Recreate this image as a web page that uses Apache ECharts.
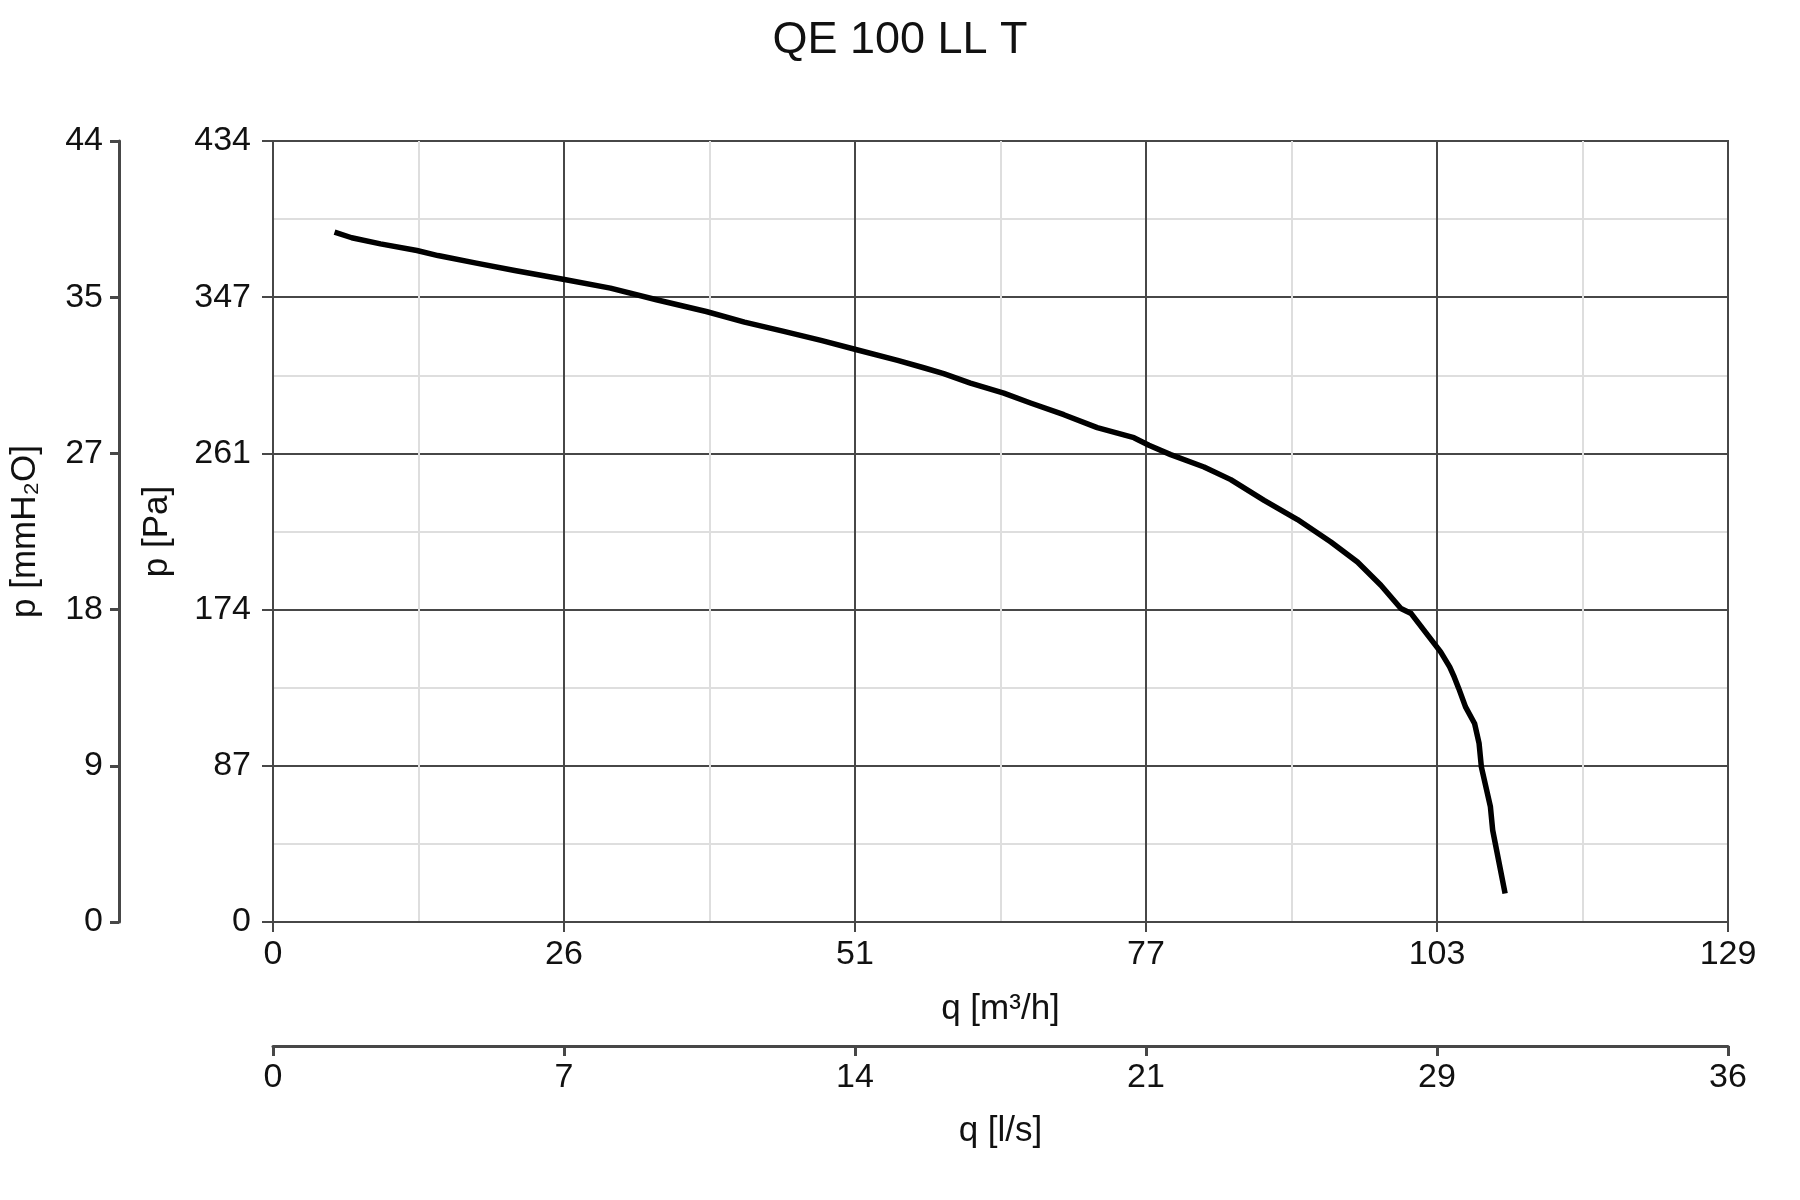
<!DOCTYPE html>
<html>
<head>
<meta charset="utf-8">
<script src="https://cdn.jsdelivr.net/npm/echarts@6/dist/echarts.min.js"></script>
<style>
html,body{margin:0;padding:0;background:#fff;}
#chart{width:1800px;height:1200px;}
</style>
</head>
<body>
<div id="chart"></div>
<script>
// ---- data ----
const chartTitle = 'QE 100 LL T';
const flowM3h = [5.44, 6.96, 9.50, 12.72, 14.58, 17.97, 21.36, 25.76, 29.82, 33.89, 38.29, 41.67, 45.06, 48.44, 51.59, 55.21, 57.51, 59.28, 61.64, 64.59, 66.95, 69.90, 72.85, 76.09, 77.42, 79.34, 82.29, 84.65, 87.6, 90.55, 93.5, 95.85, 97.92, 99.69, 100.6, 103.2, 104.0, 104.4, 104.8, 105.4, 106.2, 106.6, 106.8, 107.6, 107.8, 108.9];
const pressurePa = [383.6, 380.5, 377.1, 373.4, 370.6, 366.4, 362.3, 357.3, 352.5, 346.0, 339.5, 333.6, 328.6, 323.4, 318.2, 312.3, 308.2, 304.9, 299.7, 294.1, 288.6, 282.1, 274.9, 269.3, 265.1, 259.9, 253.0, 246.0, 234.5, 223.8, 211.3, 200.2, 187.3, 174.3, 171.5, 150.2, 141.9, 136.3, 129.9, 119.6, 110.4, 99.3, 86.3, 64.1, 51.1, 15.9];
const flowMaxM3h = 128.6;      // axis max, labels 0 26 51 77 103 129
const pressureMaxPa = 434.3;   // axis max, labels 0 87 174 261 347 434
const axisSteps = 5;
const m3hPerLs = 3.6;
const paPerMmH2O = 9.80665;

const flowMaxLs = flowMaxM3h / m3hPerLs;
const pressureMaxMm = pressureMaxPa / paPerMmH2O;
const seriesData = flowM3h.map((q, i) => [q, pressurePa[i]]);

const dark = '#474747';
const txt = '#111';
const font = 'Liberation Sans, Arial, sans-serif';
const fs = 34;
const nfs = 35;
const round = v => String(Math.round(v));

function axisCommon(w) {
  return {
    type: 'value',
    axisLine: { show: true, onZero: false, lineStyle: { color: dark, width: w } },
    axisTick: { show: true, length: 10, lineStyle: { color: dark, width: w } },
    nameLocation: 'middle',
    nameTextStyle: { color: txt, fontSize: nfs, fontFamily: font },
    splitLine: { show: false }
  };
}
function labels(margin) {
  return { color: txt, fontSize: fs, fontFamily: font, formatter: round, margin: margin, showMinLabel: true, showMaxLabel: true };
}

const chart = echarts.init(document.getElementById('chart'), null, { renderer: 'canvas' });
chart.setOption({
  animation: false,
  backgroundColor: '#fff',
  title: {
    text: chartTitle, left: 'center', top: 13,
    textStyle: { color: txt, fontSize: 45, fontWeight: 'normal', fontFamily: font }
  },
  grid: { left: 270, right: 72, top: 141, bottom: 278, show: true, borderColor: dark, borderWidth: 2, backgroundColor: 'transparent' },
  xAxis: [
    Object.assign(axisCommon(2), {
      min: 0, max: flowMaxM3h, interval: flowMaxM3h / axisSteps,
      position: 'bottom',
      name: 'q [m³/h]', nameGap: 70,
      axisLabel: labels(16),
      splitLine: { show: true, lineStyle: { color: dark, width: 2 } },
      minorTick: { show: false, splitNumber: 2 },
      minorSplitLine: { show: true, lineStyle: { color: '#dedede', width: 2 } }
    }),
    Object.assign(axisCommon(3), {
      min: 0, max: flowMaxLs, interval: flowMaxLs / axisSteps,
      position: 'bottom', offset: 124,
      name: 'q [l/s]', nameGap: 68,
      axisLabel: labels(15)
    })
  ],
  yAxis: [
    Object.assign(axisCommon(2), {
      min: 0, max: pressureMaxPa, interval: pressureMaxPa / axisSteps,
      position: 'left',
      name: 'p [Pa]', nameGap: 98,
      axisTick: { show: true, length: 11, lineStyle: { color: dark, width: 2 } },
      axisLabel: labels(22),
      splitLine: { show: true, lineStyle: { color: dark, width: 2 } },
      minorTick: { show: false, splitNumber: 2 },
      minorSplitLine: { show: true, lineStyle: { color: '#dedede', width: 2 } }
    }),
    Object.assign(axisCommon(3), {
      min: 0, max: pressureMaxMm, interval: pressureMaxMm / axisSteps,
      position: 'left', offset: 154,
      name: 'p [mmH₂O]', nameGap: 76,
      axisTick: { show: true, length: 9, lineStyle: { color: dark, width: 3 } },
      axisLabel: labels(16)
    })
  ],
  series: [{
    type: 'line',
    xAxisIndex: 0, yAxisIndex: 0,
    data: seriesData,
    showSymbol: false,
    smooth: false,
    lineStyle: { color: '#000', width: 5.5, cap: 'butt', join: 'round' },
    z: 5
  }]
});
</script>
</body>
</html>
